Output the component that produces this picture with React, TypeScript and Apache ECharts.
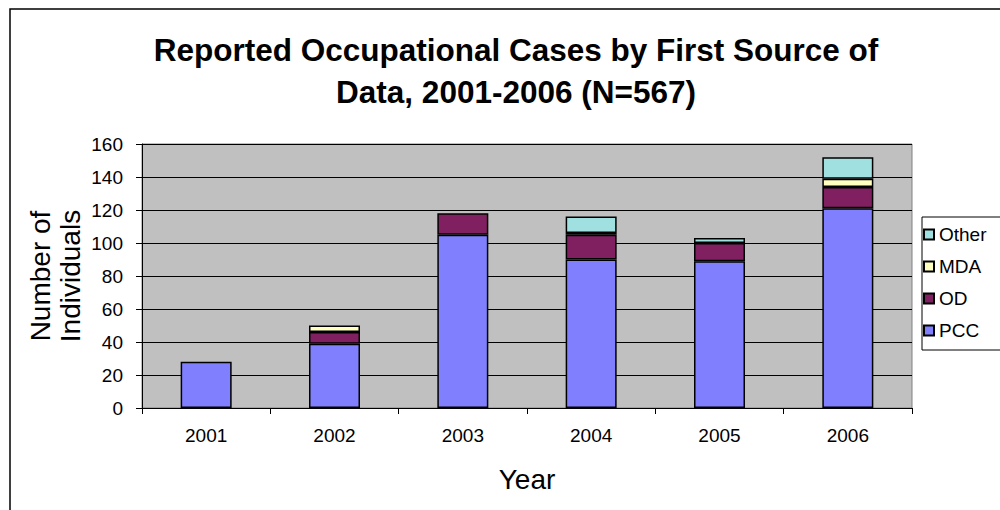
import React, { useEffect, useRef } from "react";
import * as echarts from "echarts";

const years = ["2001", "2002", "2003", "2004", "2005", "2006"];
const pcc = [28, 39, 105, 90, 89, 121];
const od = [0, 7, 13, 15, 11, 13];
const mda = [0, 4, 0, 1, 0, 5];
const other = [0, 0, 0, 10, 3, 13];
const legendOrder = ["Other", "MDA", "OD", "PCC"];

const FONT = "'Liberation Sans', Arial, sans-serif";

const noZero = (arr: number[]) => arr.map((v) => (v === 0 ? "-" : v));

export default function App() {
  const ref = useRef<HTMLDivElement>(null);
  useEffect(() => {
    document.body.style.margin = "0";
    const chart = echarts.init(ref.current!, null, { renderer: "svg" });
    const barBase = {
      type: "bar",
      stack: "total",
      barWidth: 51,
      itemStyle: { borderColor: "#000", borderWidth: 1.5 },
    };
    chart.setOption({
      animation: false,
      backgroundColor: "#fff",
      textStyle: { fontFamily: FONT },
      title: {
        text: "Reported Occupational Cases by First Source of\nData, 2001-2006 (N=567)",
        left: 511,
        top: 24,
        textAlign: "center",
        textStyle: {
          fontFamily: FONT,
          fontSize: 31.5,
          fontWeight: "bold",
          color: "#000",
          lineHeight: 42,
        },
      },
      graphic: [
        {
          type: "rect",
          shape: { x: 10, y: 9, width: 1010, height: 520 },
          style: { fill: "none", stroke: "#000", lineWidth: 1.5 },
          silent: true,
          z: -1,
        },
        {
          type: "rect",
          shape: { x: 922, y: 217, width: 100, height: 133 },
          style: { fill: "none", stroke: "#000", lineWidth: 1 },
          silent: true,
        },
      ],
      legend: {
        orient: "vertical",
        left: 918,
        top: 220,
        itemWidth: 10,
        itemHeight: 10,
        itemGap: 13,
        icon: "rect",
        data: legendOrder,
        textStyle: { fontFamily: FONT, fontSize: 19, color: "#000" },
      },
      grid: {
        left: 142,
        right: 88,
        top: 144,
        bottom: 102,
        show: true,
        backgroundColor: "#C0C0C0",
        borderColor: "#808080",
        borderWidth: 1,
      },
      xAxis: {
        type: "category",
        data: years,
        name: "Year",
        nameLocation: "middle",
        nameGap: 57,
        nameMoveOverlap: false,
        nameTextStyle: { fontFamily: FONT, fontSize: 28, color: "#000" },
        axisLine: { lineStyle: { color: "#000", width: 1 } },
        axisTick: { show: true, length: 6, lineStyle: { color: "#000" } },
        axisLabel: { fontFamily: FONT, fontSize: 19, color: "#000", margin: 18 },
      },
      yAxis: {
        type: "value",
        min: 0,
        max: 160,
        interval: 20,
        name: "Number of\nIndividuals",
        nameLocation: "middle",
        nameGap: 57,
        nameMoveOverlap: false,
        nameTextStyle: { fontFamily: FONT, fontSize: 28, color: "#000", lineHeight: 30 },
        axisLine: { show: true, lineStyle: { color: "#000", width: 1 } },
        axisTick: { show: true, length: 6, lineStyle: { color: "#000" } },
        axisLabel: { fontFamily: FONT, fontSize: 19, color: "#000", margin: 19 },
        splitLine: { show: true, lineStyle: { color: "#000", width: 1 } },
      },
      series: [
        { ...barBase, name: "PCC", data: noZero(pcc), itemStyle: { ...barBase.itemStyle, color: "#8080FF" } },
        { ...barBase, name: "OD", data: noZero(od), itemStyle: { ...barBase.itemStyle, color: "#802060" } },
        { ...barBase, name: "MDA", data: noZero(mda), itemStyle: { ...barBase.itemStyle, color: "#FFFFC0" } },
        { ...barBase, name: "Other", data: noZero(other), itemStyle: { ...barBase.itemStyle, color: "#A0E0E0" } },
      ],
    });
    return () => chart.dispose();
  }, []);
  return <div ref={ref} style={{ width: 1000, height: 510 }} />;
}
